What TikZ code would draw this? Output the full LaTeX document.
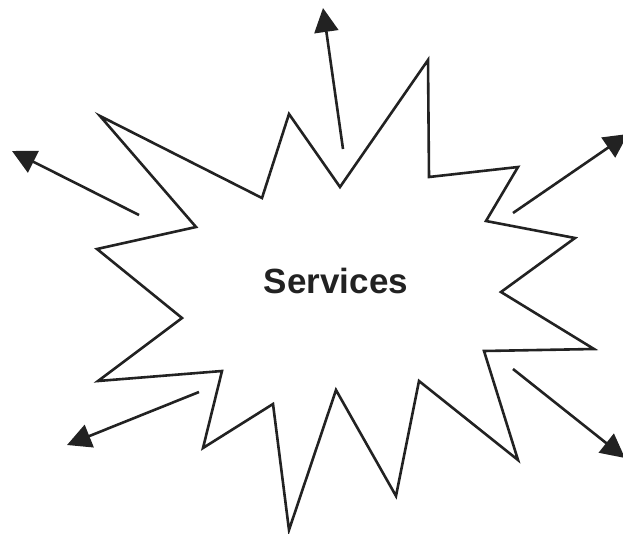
\documentclass[tikz,border=0pt]{standalone}
\usepackage{fontspec}
\setmainfont{Liberation Sans}
\usetikzlibrary{arrows.meta}

\definecolor{ink}{HTML}{222222}

\begin{document}
\begin{tikzpicture}[
x=1pt,y=-1pt,
burst/.style={
draw=ink,
line width=2.6pt,
miter limit=25
},
ray/.style={
draw=ink,
fill=ink,
line width=2.6pt,
-{Triangle[length=24pt,width=24pt]}
},
label/.style={
text=ink,
font=\fontsize{35}{42}\selectfont\bfseries
}
]

\useasboundingbox (0,0) rectangle (623,533);

\draw[burst] (428,60) -- (429,177) -- (518,167) -- (486,221)
-- (575,238) -- (501,292) -- (594,349) -- (484,351)
-- (518,460) -- (419,381) -- (396,496) -- (336,390)
-- (289,530) -- (273,404) -- (203,448) -- (222,371)
-- (98,381) -- (182,318) -- (97,249) -- (196,227)
-- (100,116) -- (262,198) -- (289,114) -- (340,187) -- cycle;

\node[label] (services) at (336,281)
{Services};

\coordinate (s1) at (343,149);
\coordinate (e1) at (323,8);
\coordinate (s2) at (139,215);
\coordinate (e2) at (12,151);
\coordinate (s3) at (199,392);
\coordinate (e3) at (67,445);
\coordinate (s4) at (513,213);
\coordinate (e4) at (628,134);
\coordinate (s5) at (513,369);
\coordinate (e5) at (625,458);

\draw[ray] (s1) -- (e1);
\draw[ray] (s2) -- (e2);
\draw[ray] (s3) -- (e3);
\draw[ray] (s4) -- (e4);
\draw[ray] (s5) -- (e5);

\end{tikzpicture}
\end{document}
